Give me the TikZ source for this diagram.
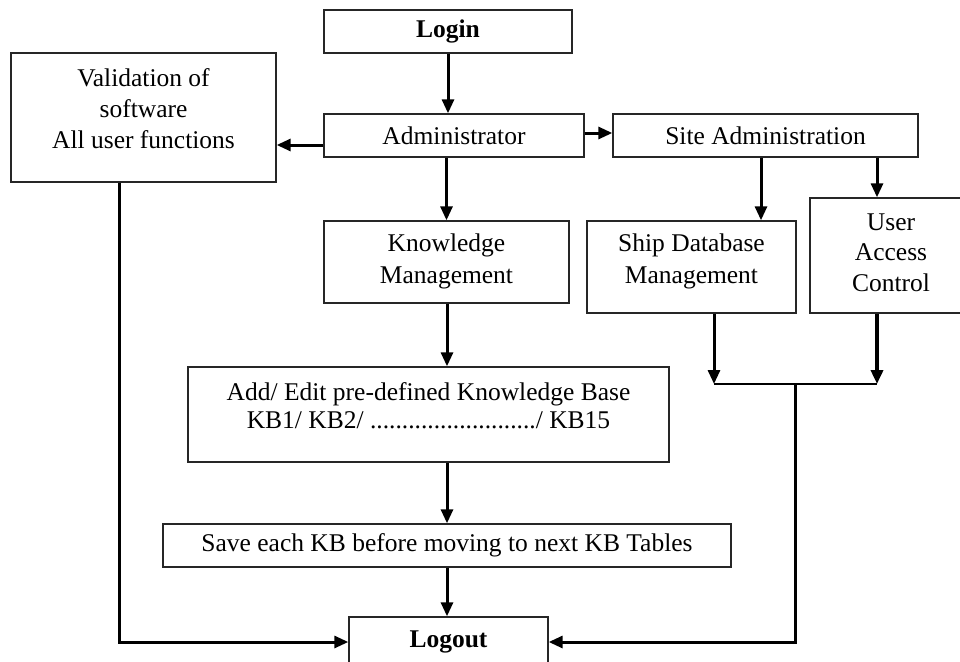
\documentclass[tikz,border=0pt]{standalone}
\usepackage{fontspec}
\setmainfont{Liberation Serif}
\usetikzlibrary{arrows.meta}
\begin{document}
\begin{tikzpicture}[x=1pt,y=-1pt,
  box/.style={draw=black!85,line width=1.4pt,inner sep=0pt,fill=white},
  txt/.style={align=center,inner sep=0pt,font=\fontsize{25.5}{32}\selectfont},
  arr/.style={line width=3pt,-{Triangle[length=14pt,width=12pt]}},
  wire/.style={line width=3pt},
  thinwire/.style={line width=2pt}]
\useasboundingbox (0,0) rectangle (960,661);
\clip (0,0) rectangle (960,661);
\fill[white] (0,0) rectangle (960,661);

% top row
\node[box,txt,minimum width=248,minimum height=43] (login) at (448,31.5) {\bfseries Login};
\node[box,txt,minimum width=260,minimum height=43] (admin) at (454,135.5) {Administrator};
\node[box,txt,minimum width=305,minimum height=43] (site) at (765.5,135.5) {Site Administration};

% validation box, text set high
\node[box,minimum width=265,minimum height=129] (val) at (143.5,117.5) {};
\node[txt,font=\fontsize{25.5}{31}\selectfont] (valtext) at (143.5,109) {Validation of\\software\\All user functions};

% knowledge management
\node[box,minimum width=245,minimum height=82] (km) at (446.5,262) {};
\node[txt] (kmtext) at (446.5,261) {Knowledge\\Management};

% site administration branches
\node[box,minimum width=209,minimum height=92] (ship) at (691.5,267) {};
\node[txt] (shiptext) at (691.5,261) {Ship Database\\Management};
\node[box,minimum width=162,minimum height=115] (uac) at (891,255.5) {};
\node[txt,font=\fontsize{25.5}{30.5}\selectfont] (uactext) at (891,252.5) {User\\Access\\Control};

% knowledge base editing
\node[box,minimum width=481,minimum height=95] (add) at (428.5,414.5) {};
\node[txt,font=\fontsize{25.5}{28}\selectfont] (addtext) at (428.5,406)
  {Add/ Edit pre-defined Knowledge Base\\KB1/ KB2/ ........................../ KB15};
\node[box,txt,minimum width=568,minimum height=43] (save) at (447,545.5) {Save each KB before moving to next KB Tables};

% logout
\node[box,txt,minimum width=199,minimum height=50] (logout) at (448.5,642) {\bfseries Logout};

% junction of the two site branches
\coordinate (jl) at (714,384);
\coordinate (jr) at (877,384);
\coordinate (jm) at (795,384);

% connectors
\draw[arr] (login.south) -- (login.south |- admin.north);
\draw[arr] ([yshift=-9.5pt]admin.west) -- ([yshift=-9.5pt]admin.west -| val.east);
\draw[arr] ([yshift=2.5pt]admin.east) -- ([yshift=2.5pt]admin.east -| site.west);
\draw[arr] (km.north |- admin.south) -- (km.north);
\draw[arr] ([xshift=-4.5pt]site.south) -- ([xshift=-4.5pt]site.south |- ship.north);
\draw[arr] ([xshift=111.5pt]site.south) -- ([xshift=111.5pt]site.south |- uac.north);
\draw[arr] (km.south -| save.north) -- (save.north |- add.north);
\draw[arr] (save.north |- add.south) -- (save.north);
\draw[arr] (save.south) -- (save.south |- logout.north);

\draw[arr] (jl |- ship.south) -- (jl);
\draw[arr,line width=3.6pt] (jr |- uac.south) -- (jr);
\draw[thinwire] (jl) -- (jr);
\draw[arr] (jm) |- (logout.east);

\draw[arr] ([xshift=-24.5pt]val.south) |- (logout.west);
\end{tikzpicture}
\end{document}
